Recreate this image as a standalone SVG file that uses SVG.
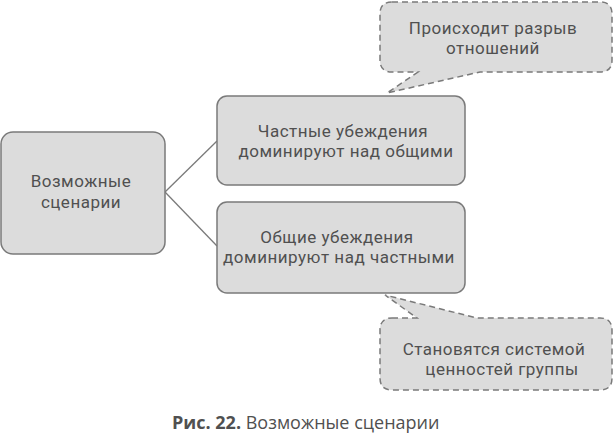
<svg xmlns="http://www.w3.org/2000/svg" width="614" height="434" viewBox="0 0 614 434">
<style>
.box{fill:#dcdcdc;stroke:#7a7a7a;stroke-width:1.5}
.call{fill:#dcdcdc;stroke:#7a7a7a;stroke-width:1.5;stroke-dasharray:6 4}
.t{font-family:Roboto,"Open Sans","DejaVu Sans",sans-serif;font-size:17px;letter-spacing:0.5px;fill:#505050;text-anchor:middle}
.cap{font-family:"Open Sans","Noto Sans","DejaVu Sans",sans-serif;font-size:18px;fill:#505050}
.ln{stroke:#7a7a7a;stroke-width:1.3;fill:none}
</style>
<rect width="614" height="434" fill="#fff"/>
<g id="connectors">
<path class="ln" d="M165,192 L217,141"/>
<path class="ln" d="M165,192 L217,246"/>
</g>
<g id="root">
<rect class="box" x="1" y="132" width="164" height="122" rx="12"/>
<text class="t" x="81" y="187">Возможные</text>
<text class="t" x="81" y="208">сценарии</text>
</g>
<g id="private">
<rect class="box" x="217" y="96" width="248" height="89" rx="10"/>
<text class="t" x="343" y="137">Частные убеждения</text>
<text class="t" x="346" y="157">доминируют над общими</text>
</g>
<g id="common">
<rect class="box" x="217" y="202" width="248" height="91" rx="10"/>
<text class="t" x="337" y="243">Общие убеждения</text>
<text class="t" x="339" y="263">доминируют над частными</text>
</g>
<g id="callout-top">
<path class="call" d="M392,2 H600 Q612,2 612,14 V60 Q612,72 600,72 H480 L387,93 L418,72 H392 Q380,72 380,60 V14 Q380,2 392,2 Z"/>
<text class="t" x="493" y="34">Происходит разрыв</text>
<text class="t" x="493" y="54">отношений</text>
</g>
<g id="callout-bottom">
<path class="call" d="M392,318 H417 L385,295 L477,318 H600 Q612,318 612,330 V378 Q612,390 600,390 H392 Q380,390 380,378 V330 Q380,318 392,318 Z"/>
<text class="t" x="494" y="355">Становятся системой</text>
<text class="t" x="502" y="375">ценностей группы</text>
</g>
<text class="cap" x="172" y="429"><tspan font-weight="bold">Рис. 22.</tspan> Возможные сценарии</text>
</svg>
